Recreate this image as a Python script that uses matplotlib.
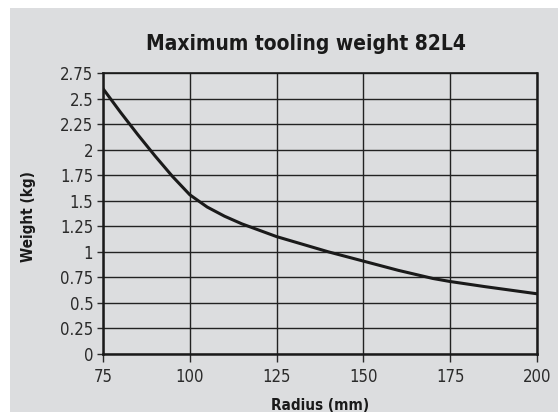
import matplotlib.pyplot as plt
from matplotlib.patches import Rectangle

# Data
radius_mm = [75, 80, 85, 90, 95, 100, 105, 110, 115, 125, 140, 150, 160, 170, 175, 185, 200]
weight_kg = [2.60, 2.37, 2.15, 1.94, 1.74, 1.56, 1.44, 1.35, 1.275, 1.15, 1.00, 0.91, 0.82, 0.74, 0.71, 0.66, 0.59]
x_ticks = [75, 100, 125, 150, 175, 200]
y_ticks = [0, 0.25, 0.5, 0.75, 1, 1.25, 1.5, 1.75, 2, 2.25, 2.5, 2.75]
y_tick_labels = ["0", "0.25", "0.5", "0.75", "1", "1.25", "1.5", "1.75", "2", "2.25", "2.5", "2.75"]

BG = "#dcdddf"
FONT = ["Liberation Sans Narrow", "DejaVu Sans"]
plt.rcParams["font.family"] = FONT
plt.rcParams["font.stretch"] = "condensed"

W, H = 558, 412
fig = plt.figure(figsize=(W / 100, H / 100), dpi=100)
fig.patch.set_facecolor("white")
fig.patches.append(Rectangle((10 / W, 0), (W - 10) / W, (H - 8) / H,
                             transform=fig.transFigure, facecolor=BG,
                             edgecolor="none", zorder=-5))

ax = fig.add_axes([103 / W, 58 / H, (537 - 103) / W, (354 - 73.3) / H])
ax.set_zorder(2)
ax.set_facecolor(BG)

ax.plot(radius_mm, weight_kg, color="#1a1a1a", lw=2.2, solid_capstyle="round", zorder=3)

ax.set_xlim(75, 200)
ax.set_ylim(0, 2.75)
ax.set_xticks(x_ticks)
ax.set_yticks(y_ticks)
ax.set_yticklabels(y_tick_labels)
ax.grid(True, color="#222222", lw=1.0)
ax.set_axisbelow(True)

for s in ax.spines.values():
    s.set_color("#1a1a1a")
    s.set_linewidth(1.8)
ax.spines["top"].set_linewidth(1.2)

ax.tick_params(axis="both", labelsize=12, colors="#2a2a2a", width=1.0, pad=3)
ax.tick_params(axis="y", length=4)
ax.tick_params(axis="x", length=6, pad=4)

fig.text(306 / W, 1 - 44 / H, "Maximum tooling weight 82L4", ha="center", va="center",
         fontsize=15, fontweight="bold", color="#1a1a1a")
fig.text(28 / W, 1 - 217 / H, "Weight (kg)", ha="center", va="center", rotation=90,
         fontsize=11, fontweight="bold", color="#1a1a1a")
fig.text(320 / W, 1 - 406 / H, "Radius (mm)", ha="center", va="center",
         fontsize=11, fontweight="bold", color="#1a1a1a")

fig.savefig("out.png", dpi=100)
